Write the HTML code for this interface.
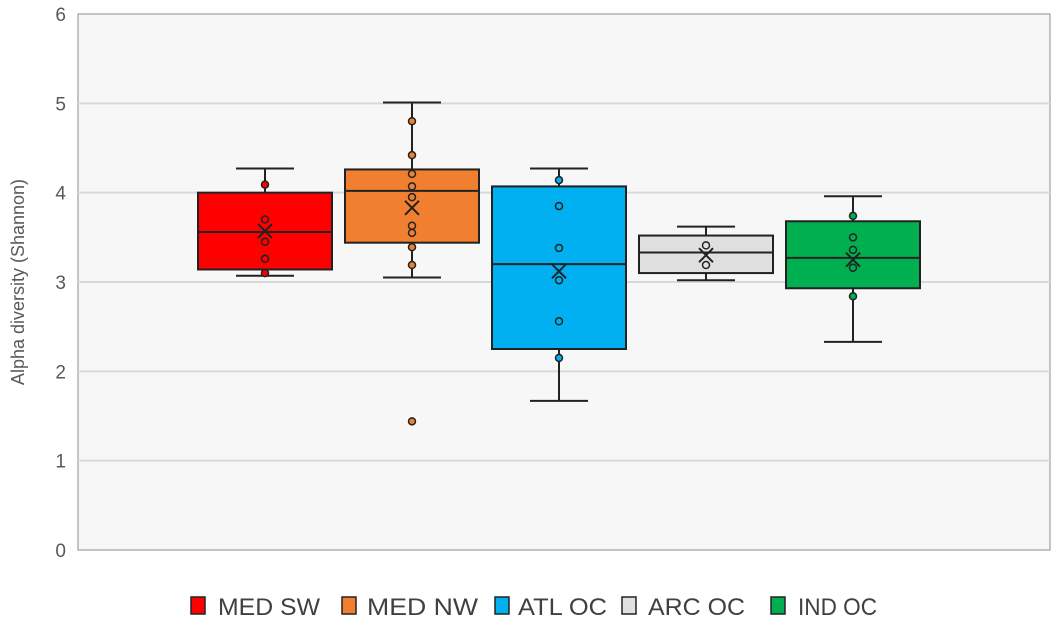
<!DOCTYPE html>
<html><head><meta charset="utf-8"><style>
body{margin:0;background:#fff;font-family:"Liberation Sans",sans-serif}
</style></head><body>
<svg id="chart" width="1063" height="630" xmlns="http://www.w3.org/2000/svg">
<rect x="78" y="14" width="972" height="536" fill="#f7f7f7" stroke="#8c8c8c" stroke-width="1"/>
<g id="grid"></g><g id="yticks"></g><g id="boxes"></g><g id="legend"></g>
<text x="24" y="282" transform="rotate(-90 24 282)" text-anchor="middle" font-size="18" fill="#595959">Alpha diversity (Shannon)</text>
</svg>
<script>
const categories=["MED SW","MED NW","ATL OC","ARC OC","IND OC"];
const colors=["#ff0000","#f07f30","#00b0f0","#e0e0e0","#00b050"];
const whiskerLow=[3.07,3.05,1.67,3.02,2.33];
const q1=[3.14,3.44,2.25,3.10,2.93];
const median=[3.56,4.02,3.20,3.33,3.27];
const q3=[4.00,4.26,4.07,3.52,3.68];
const whiskerHigh=[4.27,5.01,4.27,3.62,3.96];
const means=[3.57,3.83,3.12,3.30,3.25];
const pointsSW=[4.09,3.70,3.45,3.26,3.10];
const pointsNW=[4.80,4.42,4.21,4.07,3.95,3.63,3.55,3.39,3.19,1.44];
const pointsATL=[4.14,3.85,3.38,3.02,2.56,2.15];
const pointsARC=[3.41,3.19];
const pointsIND=[3.74,3.50,3.36,3.16,2.84];
const yTicks=[0,1,2,3,4,5,6];
const NS="http://www.w3.org/2000/svg";
const pts=[pointsSW,pointsNW,pointsATL,pointsARC,pointsIND];
function y(v){return 550-v*(536/6);}
function xc(i){return 265+i*147;}
function mk(tag,attrs,parent){const e=document.createElementNS(NS,tag);for(const k in attrs)e.setAttribute(k,attrs[k]);document.getElementById(parent).appendChild(e);return e;}
yTicks.forEach(t=>{
  if(t>0&&t<6){const g=mk('line',{x1:78,x2:1050,y1:y(t),y2:y(t),stroke:'#d9d9d9','stroke-width':2},'grid');
  
  }
  const l=mk('text',{x:66,y:y(t)+7,'text-anchor':'end','font-size':19,fill:'#595959'},'yticks');
  l.textContent=t;
  
  
});
categories.forEach((c,i)=>{
  const cx=xc(i),hw=67,ww=29,st='#222';
  const w1=mk('line',{x1:cx,x2:cx,y1:y(whiskerHigh[i]),y2:y(whiskerLow[i]),stroke:st,'stroke-width':2},'boxes');
  
  
  [whiskerHigh[i],whiskerLow[i]].forEach(v=>{const cap=mk('line',{x1:cx-ww,x2:cx+ww,y1:y(v),y2:y(v),stroke:st,'stroke-width':2},'boxes');
    
    });
  const b=mk('rect',{x:cx-hw,y:y(q3[i]),width:hw*2,height:y(q1[i])-y(q3[i]),fill:colors[i],stroke:st,'stroke-width':2},'boxes');
  
  
  const m=mk('line',{x1:cx-hw,x2:cx+hw,y1:y(median[i]),y2:y(median[i]),stroke:st,'stroke-width':2},'boxes');
  
  
  pts[i].forEach(v=>{const p=mk('circle',{cx:cx,cy:y(v),r:3.5,fill:colors[i],stroke:st,'stroke-width':1.5},'boxes');
    
    });
  const my=y(means[i]);
  const mx=mk('path',{d:`M${cx-7},${my-7}L${cx+7},${my+7}M${cx+7},${my-7}L${cx-7},${my+7}`,stroke:st,'stroke-width':2,fill:'none'},'boxes');
  
  
});
const legX=[191,342,495,622,771];
const legTextX=[218,367,518,648,798];
const legTextW=[102,111,89,97,79];
categories.forEach((c,i)=>{
  const s=mk('rect',{x:legX[i],y:597,width:14,height:17,fill:colors[i],stroke:'#222','stroke-width':1.5},'legend');
  
  
  const t=mk('text',{x:legTextX[i],y:615,'font-size':24,fill:'#404040',textLength:legTextW[i],lengthAdjust:'spacingAndGlyphs'},'legend');
  t.textContent=c;
  
  
});
</script>
</body></html>
